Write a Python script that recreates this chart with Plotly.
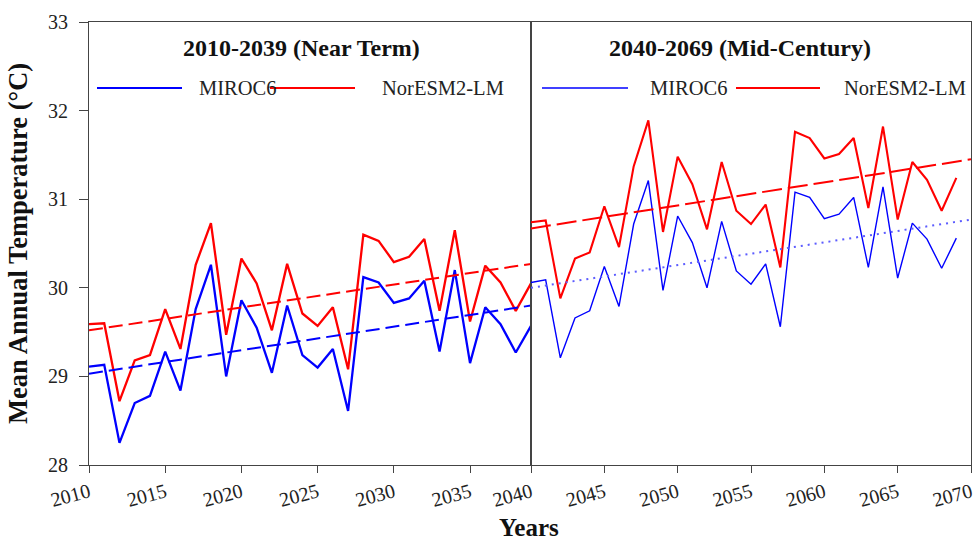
import plotly.graph_objects as go
from plotly.subplots import make_subplots

# ---- data ----
years_near = list(range(2010, 2040))
years_mid = list(range(2040, 2070))

miroc_near = [29.11, 29.13, 28.25, 28.70, 28.78, 29.28, 28.84, 29.76, 30.26, 29.00,
              29.86, 29.55, 29.04, 29.80, 29.24, 29.10, 29.31, 28.61, 30.12, 30.06,
              29.83, 29.88, 30.08, 29.28, 30.20, 29.15, 29.78, 29.59, 29.27, 29.57]
nor_near = [29.59, 29.60, 28.72, 29.18, 29.24, 29.76, 29.31, 30.26, 30.73, 29.47,
            30.33, 30.05, 29.52, 30.27, 29.71, 29.57, 29.78, 29.08, 30.60, 30.53,
            30.29, 30.35, 30.55, 29.74, 30.65, 29.62, 30.25, 30.06, 29.74, 30.05]

miroc_mid = [30.06, 30.09, 29.21, 29.66, 29.74, 30.24, 29.79, 30.72, 31.21, 29.97,
             30.81, 30.51, 30.00, 30.75, 30.19, 30.04, 30.27, 29.56, 31.08, 31.02,
             30.78, 30.83, 31.02, 30.23, 31.14, 30.11, 30.73, 30.55, 30.22, 30.56]
nor_mid = [30.74, 30.76, 29.88, 30.33, 30.40, 30.92, 30.46, 31.37, 31.89, 30.63,
           31.48, 31.17, 30.66, 31.42, 30.87, 30.72, 30.94, 30.23, 31.76, 31.69,
           31.46, 31.51, 31.69, 30.90, 31.82, 30.77, 31.42, 31.22, 30.87, 31.24]

# trend line end points
trend_x_near = [2010, 2039]
trend_miroc_near = [29.03, 29.80]
trend_nor_near = [29.52, 30.27]
trend_x_mid = [2040, 2070]
trend_miroc_mid = [30.00, 30.77]
trend_nor_mid = [30.67, 31.45]

ticks_near = [2010, 2015, 2020, 2025, 2030, 2035]
ticks_mid = [2040, 2045, 2050, 2055, 2060, 2065, 2070]
y_ticks = [28, 29, 30, 31, 32, 33]

panel_titles = ["2010-2039 (Near Term)", "2040-2069 (Mid-Century)"]
series_names = ["MIROC6", "NorESM2-LM"]

BLUE = "#0000FF"
RED = "#FF0000"
FONT = "Liberation Serif, Times New Roman, serif"
AXC = "#444444"

L, R, T, B = 89, 6, 22, 78
PW = 977 - L - R
PH = 543 - T - B


def px(x):
    return (x - L) / PW


def py(y):
    return (543 - B - y) / PH


split = px(531)

fig = make_subplots(rows=1, cols=2, shared_yaxes=False, horizontal_spacing=0,
                    column_widths=[split, 1 - split])

# near term
fig.add_trace(go.Scatter(x=years_near, y=miroc_near, mode="lines", name=series_names[0],
                         line=dict(color=BLUE, width=2.3), showlegend=False), row=1, col=1)
fig.add_trace(go.Scatter(x=years_near, y=nor_near, mode="lines", name=series_names[1],
                         line=dict(color=RED, width=2.3), showlegend=False), row=1, col=1)
fig.add_trace(go.Scatter(x=trend_x_near, y=trend_nor_near, mode="lines", showlegend=False,
                         line=dict(color=RED, width=2, dash="14px,6px")), row=1, col=1)
fig.add_trace(go.Scatter(x=trend_x_near, y=trend_miroc_near, mode="lines", showlegend=False,
                         line=dict(color=BLUE, width=2, dash="14px,6px")), row=1, col=1)

# mid century
fig.add_trace(go.Scatter(x=years_mid, y=miroc_mid, mode="lines", name=series_names[0],
                         line=dict(color=BLUE, width=1.4), showlegend=False), row=1, col=2)
fig.add_trace(go.Scatter(x=years_mid, y=nor_mid, mode="lines", name=series_names[1],
                         line=dict(color=RED, width=2.1), showlegend=False), row=1, col=2)
fig.add_trace(go.Scatter(x=trend_x_mid, y=trend_nor_mid, mode="lines", showlegend=False,
                         line=dict(color=RED, width=2, dash="20px,6px")), row=1, col=2)
fig.add_trace(go.Scatter(x=trend_x_mid, y=trend_miroc_mid, mode="lines", showlegend=False,
                         line=dict(color="#5c5cff", width=2, dash="2px,5px")), row=1, col=2)

axis_common = dict(showline=True, linecolor=AXC, linewidth=1.2, mirror=True,
                   showgrid=False, zeroline=False, ticks="outside", ticklen=7,
                   tickcolor=AXC, automargin=False, ticklabeloverflow="allow",
                   tickfont=dict(family=FONT, size=20, color="#222"))

fig.update_xaxes(**axis_common, tickangle=-15)
fig.update_xaxes(range=[2010, 2039], tickvals=ticks_near, row=1, col=1)
fig.update_xaxes(range=[2040, 2070], tickvals=ticks_mid, row=1, col=2)
fig.update_yaxes(**axis_common)
fig.update_yaxes(range=[28, 33], tickvals=y_ticks, row=1, col=1, ticklen=9, ticklabelstandoff=7,
                 title=dict(text="<b>Mean Annual Temperature (°C)</b>",
                            font=dict(family=FONT, size=26.5, color="#111"), standoff=12))
fig.update_yaxes(range=[28, 33], tickvals=y_ticks, showticklabels=False, ticks="", row=1, col=2)

annotations = [
    dict(text="<b>%s</b>" % panel_titles[0], x=px(301), y=py(48), xref="paper", yref="paper",
         xanchor="center", yanchor="middle",
         showarrow=False, font=dict(family=FONT, size=24, color="#111")),
    dict(text="<b>%s</b>" % panel_titles[1], x=px(740), y=py(48), xref="paper", yref="paper",
         xanchor="center", yanchor="middle",
         showarrow=False, font=dict(family=FONT, size=24, color="#111")),
    dict(text="<b>Years</b>", x=px(529), y=py(527), xref="paper", yref="paper",
         xanchor="center", yanchor="middle",
         showarrow=False, font=dict(family=FONT, size=25, color="#111")),
]

# legend rows (one per panel)
legend_rows = [
    [(97, 182, BLUE, 2.2, 197, series_names[0]), (270, 355, RED, 2.2, 380, series_names[1])],
    [(542, 628, BLUE, 1.4, 648, series_names[0]), (736, 820, RED, 2.0, 842, series_names[1])],
]
ly = py(88)
shapes = []
for row in legend_rows:
    for x0, x1, col, w, tx, name in row:
        shapes.append(dict(type="line", xref="paper", yref="paper",
                           x0=px(x0), x1=px(x1), y0=ly, y1=ly,
                           line=dict(color=col, width=w)))
        annotations.append(dict(text=name, x=px(tx), y=ly, xref="paper", yref="paper",
                                xanchor="left", yanchor="middle", showarrow=False,
                                font=dict(family=FONT, size=20.5, color="#222")))

fig.update_layout(width=977, height=543, margin=dict(l=L, r=R, t=T, b=B),
                  paper_bgcolor="white", plot_bgcolor="white",
                  annotations=annotations, shapes=shapes, showlegend=False)

fig.write_html("out.html", config={"displayModeBar": False},
               post_script="document.body.style.margin='0';document.body.style.overflow='hidden';")
